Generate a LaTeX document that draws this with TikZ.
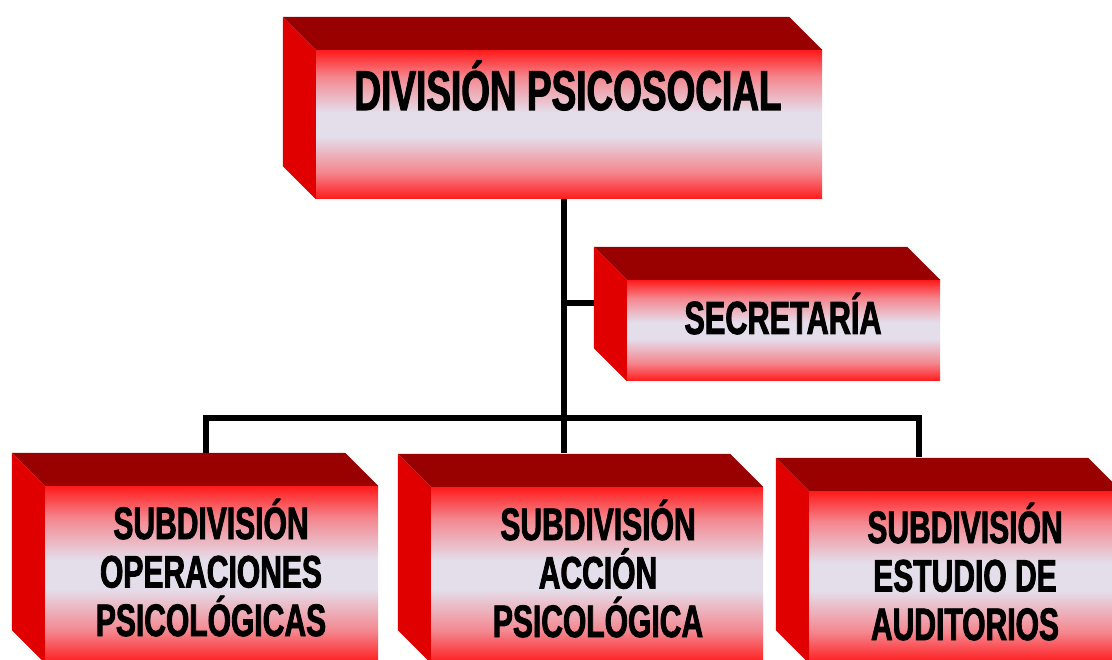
\documentclass[tikz,border=0pt]{standalone}
\usepackage{fontspec}
\newfontfamily\boxfont{Liberation Sans}[FakeStretch=0.66,FakeBold=1.8]
\usetikzlibrary{calc}
\definecolor{topc}{HTML}{990000}
\definecolor{sidec}{HTML}{E00000}
\definecolor{redA}{HTML}{FF1A1A}
\definecolor{redB}{HTML}{F4868E}
\definecolor{lav}{HTML}{E4DEEB}
\pgfdeclareverticalshading{redface}{100bp}{color(0bp)=(redA); color(25bp)=(redA); color(34bp)=(redB); color(46bp)=(lav); color(54bp)=(lav); color(66bp)=(redB); color(75bp)=(redA); color(100bp)=(redA)}
\newcommand\bxfont[2]{\boxfont\bfseries\fontsize{#1}{#2}\selectfont}
\newcommand\cubesides[1]{%
  \fill[sidec] (#1.north west) -- ++(-33,-33) -- ($(#1.south west)+(-33,-33)$) -- (#1.south west) -- cycle;
  \fill[topc] (#1.north west) -- ++(-33,-33) -- ($(#1.north east)+(-33,-33)$) -- (#1.north east) -- cycle;
}
\tikzset{
  face/.style={shading=redface, draw=none, inner sep=0pt},
  lbl/.style={inner sep=0pt, align=center, text=black},
  conn/.style={draw=black, line width=6pt, line join=miter}
}
\begin{document}
\begin{tikzpicture}[x=1pt,y=-1pt]
\useasboundingbox (0,0) rectangle (1112,660);
\clip (0,0) rectangle (1112,660);
% connectors
\coordinate (hub) at (564,418);
\coordinate (secj) at (564,303);
\coordinate (secside) at (594,303);
\coordinate (b1top) at (206,453);
\coordinate (b2top) at (564,453);
\coordinate (b3top) at (919,457);
% boxes (front faces)
\node[face, minimum width=506pt, minimum height=149pt] (top) at (569,124.5) {};
\node[face, minimum width=313pt, minimum height=101pt] (sec) at (783.5,330.5) {};
\node[face, minimum width=333pt, minimum height=177pt] (b1) at (211.5,574.5) {};
\node[face, minimum width=332pt, minimum height=176pt] (b2) at (597,575) {};
\node[face, minimum width=312pt, minimum height=172pt] (b3) at (965,577) {};
\cubesides{top}
\cubesides{sec}
\cubesides{b1}
\cubesides{b2}
\cubesides{b3}
\draw[conn] (top.south -| hub) -- (b2top);
\draw[conn] (secj) -- (secside);
\draw[conn] (b1top) |- (hub) -| (b3top);
% labels
\node[lbl, font=\bxfont{56}{60}, anchor=base] (topt) at (568,110) {DIVISIÓN PSICOSOCIAL};
\node[lbl, font=\bxfont{46.5}{50}, anchor=base] (sect) at (783,334) {SECRETARÍA};
\node[lbl, font=\bxfont{45.5}{48.5}, anchor=base] (b1t) at (211,636) {SUBDIVISIÓN\\OPERACIONES\\PSICOLÓGICAS};
\node[lbl, font=\bxfont{45.5}{48.5}, anchor=base] (b2t) at (598,637) {SUBDIVISIÓN\\ACCIÓN\\PSICOLÓGICA};
\node[lbl, font=\bxfont{45.5}{48.5}, anchor=base] (b3t) at (965,640) {SUBDIVISIÓN\\ESTUDIO DE\\AUDITORIOS};
\end{tikzpicture}
\end{document}
